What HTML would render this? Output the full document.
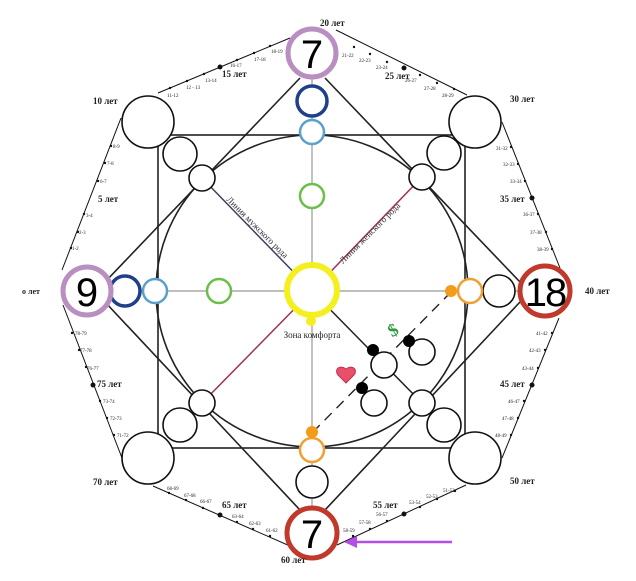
<!DOCTYPE html>
<html><head><meta charset="utf-8"><style>
html,body{margin:0;padding:0;background:#fff;}
svg{display:block;}
.t{font-family:"Liberation Serif",serif;font-size:5px;fill:#222;}
.y{font-family:"Liberation Serif",serif;font-size:9px;font-weight:bold;fill:#222;}
.n{font-family:"Liberation Sans",sans-serif;font-size:40px;fill:#000;}
</style></head><body>
<svg width="636" height="581" viewBox="0 0 636 581" xmlns="http://www.w3.org/2000/svg">
<g stroke="#111" stroke-width="1" fill="none">
<path d="M158,93 L290,38 M336,30 L467,95 M502,122 L560,268 M559,318 L502,458 M466,485 L337,545 M290,546 L153,486 M122,458 L63,305 M62,270 L121,118"/>
</g>
<g stroke="#999" stroke-width="1.2"><line x1="87" y1="291" x2="545" y2="291"/><line x1="312" y1="53" x2="312" y2="533"/></g>
<g stroke="#222" stroke-width="1.6" fill="none">
<rect x="158" y="135" width="307" height="313"/>
<circle cx="312" cy="291" r="156"/>
<path d="M300,78 L105,282 M325,78 L520,282 M105,302 L300,510 M520,302 L325,510"/>
</g>
<line x1="312" y1="291" x2="202" y2="178" stroke="#4a3a5a" stroke-width="1.5"/>
<line x1="312" y1="291" x2="422" y2="177" stroke="#a0305a" stroke-width="1.5"/>
<line x1="312" y1="291" x2="202" y2="403" stroke="#a0305a" stroke-width="1.5"/>
<line x1="312" y1="291" x2="422" y2="403" stroke="#222" stroke-width="1.5"/>
<line x1="451" y1="292" x2="312" y2="433" stroke="#222" stroke-width="1.4" stroke-dasharray="10,7"/>
<g fill="#fff" stroke="#111" stroke-width="1.6">
<circle cx="148" cy="122" r="26"/><circle cx="475" cy="122" r="26"/><circle cx="148" cy="458" r="26"/><circle cx="475" cy="458" r="26"/>
<circle cx="180" cy="154" r="17"/><circle cx="444" cy="153" r="17"/><circle cx="180" cy="425" r="17"/><circle cx="444" cy="425" r="17"/>
<circle cx="202" cy="178" r="13"/><circle cx="422" cy="177" r="13"/><circle cx="202" cy="403" r="13"/><circle cx="422" cy="403" r="13"/>
<circle cx="384" cy="365" r="13"/><circle cx="422" cy="352" r="13"/><circle cx="374" cy="403" r="13"/>
<circle cx="499" cy="291" r="16"/><circle cx="312" cy="482" r="16"/>
</g>
<g fill="#000"><circle cx="373" cy="350" r="6"/><circle cx="409" cy="341" r="6"/><circle cx="362" cy="388" r="6"/></g>
<g fill="#fff" stroke-width="3.5">
<circle cx="312" cy="101" r="15" stroke="#1f3f8a"/><circle cx="125" cy="291" r="15" stroke="#1f3f8a"/>
<circle cx="312" cy="132" r="12" stroke="#5aa0c8" stroke-width="2.5"/><circle cx="155" cy="291" r="12" stroke="#5aa0c8" stroke-width="2.5"/>
<circle cx="312" cy="196" r="12" stroke="#6abf4b" stroke-width="2.5"/><circle cx="219" cy="291" r="12" stroke="#6abf4b" stroke-width="2.5"/>
<circle cx="470" cy="291" r="12" stroke="#f0a030" stroke-width="2.5"/><circle cx="312" cy="450" r="12" stroke="#f0a030" stroke-width="2.5"/>
<circle cx="312" cy="290" r="25" stroke="#f4f020" stroke-width="6"/>
<circle cx="312" cy="53" r="24" stroke="#b98ec0" stroke-width="5"/><circle cx="87" cy="291" r="24" stroke="#b98ec0" stroke-width="5"/>
<circle cx="545" cy="291" r="25" stroke="#c0392b" stroke-width="5"/><circle cx="312" cy="533" r="25" stroke="#c0392b" stroke-width="5"/>
</g>
<circle cx="311" cy="321" r="5" fill="#f4f020"/>
<circle cx="451" cy="291" r="6" fill="#f39c1a"/><circle cx="312" cy="432" r="6" fill="#f39c1a"/>
<g class="n" text-anchor="middle">
<text x="312" y="68">7</text><text x="87" y="306">9</text><text x="545" y="306" letter-spacing="-2">18</text><text x="312" y="548">7</text>
</g>
<text x="312" y="338" text-anchor="middle" font-family="Liberation Serif,serif" font-size="9" fill="#222">Зона комфорта</text>
<text transform="translate(226,200) rotate(45)" font-family="Liberation Serif,serif" font-size="9" fill="#333">Линия мужского рода</text>
<text transform="translate(343,264) rotate(-45)" font-family="Liberation Serif,serif" font-size="9" fill="#333">Линия женского рода</text>
<text x="393" y="336" text-anchor="middle" font-family="Liberation Serif,serif" font-size="18" font-weight="bold" fill="#2a9a3a" transform="rotate(-30 393 330)">$</text>
<path d="M346,383 L338,375 C334,370 339,364 346,369 C353,364 358,370 354,375 Z" fill="#e8506a" stroke="#c03050"/>
<line x1="452" y1="542" x2="355" y2="542" stroke="#b44ee8" stroke-width="2.5"/>
<path d="M344,542 L357,536 L357,548 Z" fill="#b44ee8"/>
<g fill="#111">
<circle cx="170" cy="88" r="1.2"/><circle cx="187" cy="81" r="1.2"/><circle cx="204" cy="74" r="1.2"/><circle cx="220" cy="67" r="2.5"/><circle cx="237" cy="60" r="1.2"/><circle cx="254" cy="53" r="1.2"/><circle cx="270" cy="46" r="1.2"/>
<circle cx="354" cy="47" r="1.2"/><circle cx="370" cy="54" r="1.2"/><circle cx="387" cy="62" r="1.2"/><circle cx="404" cy="68" r="2.5"/><circle cx="420" cy="75" r="1.2"/><circle cx="437" cy="83" r="1.2"/><circle cx="454" cy="89" r="1.2"/>
<circle cx="511" cy="147" r="1.2"/><circle cx="518" cy="164" r="1.2"/><circle cx="525" cy="181" r="1.2"/><circle cx="532" cy="198" r="2.5"/><circle cx="538" cy="214" r="1.2"/><circle cx="546" cy="232" r="1.2"/><circle cx="552" cy="249" r="1.2"/>
<circle cx="552" cy="333" r="1.2"/><circle cx="545" cy="350" r="1.2"/><circle cx="538" cy="368" r="1.2"/><circle cx="532" cy="385" r="2.5"/><circle cx="524" cy="401" r="1.2"/><circle cx="518" cy="418" r="1.2"/><circle cx="511" cy="435" r="1.2"/>
<circle cx="455" cy="491" r="1.2"/><circle cx="437" cy="499" r="1.2"/><circle cx="420" cy="507" r="1.2"/><circle cx="404" cy="514" r="2.5"/><circle cx="387" cy="521" r="1.2"/><circle cx="370" cy="529" r="1.2"/><circle cx="353" cy="536" r="1.2"/>
<circle cx="169" cy="493" r="1.2"/><circle cx="186" cy="500" r="1.2"/><circle cx="203" cy="508" r="1.2"/><circle cx="220" cy="515" r="2.5"/><circle cx="237" cy="522" r="1.2"/><circle cx="253" cy="529" r="1.2"/><circle cx="270" cy="536" r="1.2"/>
<circle cx="72" cy="333" r="1.2"/><circle cx="79" cy="350" r="1.2"/><circle cx="86" cy="367" r="1.2"/><circle cx="93" cy="385" r="2.5"/><circle cx="100" cy="401" r="1.2"/><circle cx="107" cy="418" r="1.2"/><circle cx="114" cy="435" r="1.2"/>
<circle cx="111" cy="146" r="1.2"/><circle cx="105" cy="163" r="1.2"/><circle cx="98" cy="181" r="1.2"/><circle cx="84" cy="214" r="1.2"/><circle cx="78" cy="232" r="1.2"/><circle cx="71" cy="248" r="1.2"/>
</g>
<g class="t">
<text x="167" y="97">11-12</text><text x="186" y="89">12 - 13</text><text x="205" y="82">13-14</text><text x="230" y="67">16-17</text><text x="254" y="61">17-18</text><text x="271" y="53">18-19</text>
<text x="342" y="57">21-22</text><text x="359" y="62">22-23</text><text x="376" y="69">23-24</text><text x="405" y="82">26-27</text><text x="424" y="90">27-28</text><text x="442" y="97">28-29</text>
<text x="113" y="148">8-9</text><text x="107" y="165">7-8</text><text x="100" y="183">6-7</text><text x="86" y="217">3-4</text><text x="79" y="234">2-3</text><text x="72" y="250">1-2</text>
<text x="496" y="150">31-32</text><text x="503" y="166">32-33</text><text x="510" y="183">33-34</text><text x="523" y="216">36-37</text><text x="530" y="234">37-38</text><text x="537" y="251">38-39</text>
<text x="536" y="335">41-42</text><text x="529" y="352">42-43</text><text x="522" y="370">43-44</text><text x="508" y="403">46-47</text><text x="502" y="420">47-48</text><text x="495" y="437">48-49</text>
<text x="443" y="492">51-52</text><text x="426" y="498">52-53</text><text x="409" y="504">53-54</text><text x="376" y="516">56-57</text><text x="359" y="524">57-58</text><text x="343" y="532">58-59</text>
<text x="167" y="490">68-69</text><text x="184" y="497">67-68</text><text x="200" y="503">66-67</text><text x="232" y="518">63-64</text><text x="249" y="525">62-63</text><text x="266" y="532">61-62</text>
<text x="75" y="335">78-79</text><text x="80" y="352">77-78</text><text x="87" y="370">76-77</text><text x="103" y="403">73-74</text><text x="110" y="420">72-73</text><text x="117" y="437">71-72</text>
</g>
<g class="y">
<text x="222" y="77">15 лет</text><text x="22" y="294" font-size="8">о лет</text><text x="93" y="104">10 лет</text><text x="98" y="202">5 лет</text>
<text x="320" y="26">20 лет</text><text x="385" y="79">25 лет</text><text x="510" y="102">30 лет</text><text x="500" y="202">35 лет</text>
<text x="585" y="294">40 лет</text><text x="500" y="387">45 лет</text><text x="510" y="484">50 лет</text><text x="373" y="508">55 лет</text>
<text x="281" y="563">60 лет</text><text x="222" y="508">65 лет</text><text x="93" y="485">70 лет</text><text x="97" y="387">75 лет</text>
</g>
</svg>
</body></html>
